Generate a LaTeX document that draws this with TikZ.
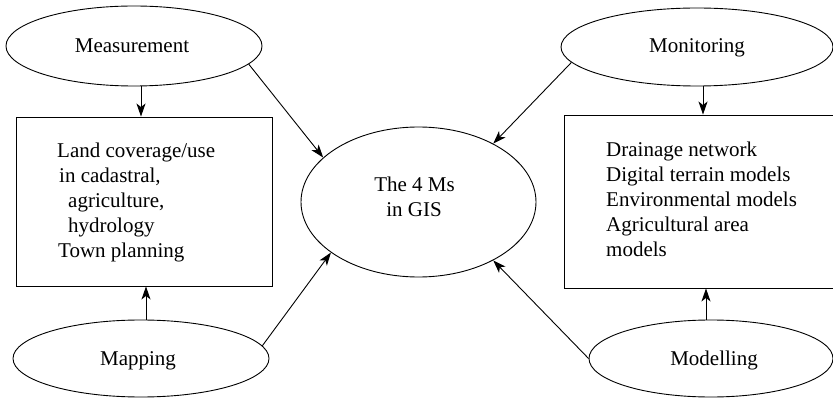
\documentclass[tikz,border=0pt]{standalone}
\usepackage{fontspec}
\setmainfont{Liberation Serif}
\usetikzlibrary{shapes.geometric,arrows.meta}
\begin{document}
\begin{tikzpicture}[x=1pt,y=-1pt,
  oval/.style={draw,ellipse,inner sep=0pt,line width=0.9pt},
  boxnode/.style={draw,rectangle,inner sep=0pt,line width=0.9pt},
  txt/.style={inner sep=0pt,anchor=base,font=\fontsize{21}{25}\selectfont},
  ltxt/.style={txt,anchor=base west},
  arr/.style={-{Stealth[length=13pt,width=9pt,inset=3.5pt]},line width=0.9pt}]
\useasboundingbox (0,0) rectangle (833,398);
\clip (0,0) rectangle (833,398);
% ellipses
\node[oval,minimum width=256pt,minimum height=80pt] (meas) at (134,46) {};
\node[oval,minimum width=272pt,minimum height=78pt] (moni) at (697,47) {};
\node[oval,minimum width=256pt,minimum height=77pt] (mapp) at (141,358.5) {};
\node[oval,minimum width=244pt,minimum height=77pt] (mode) at (711,358.5) {};
\node[oval,minimum width=235pt,minimum height=150pt] (gis) at (418.5,202) {};
% boxes
\node[boxnode,minimum width=256pt,minimum height=169pt] (lbox) at (144,201.5) {};
\node[boxnode,minimum width=276pt,minimum height=173pt] (rbox) at (702,201.5) {};
% labels
\node[txt] (tmeas) at (132,53) {Measurement};
\node[txt] (tmoni) at (697,53) {Monitoring};
\node[txt] (tmapp) at (138,365) {Mapping};
\node[txt] (tmode) at (714,365) {Modelling};
\node[txt] (g1) at (414.5,192) {The 4 Ms};
\node[txt] (g2) at (414,217) {in GIS};
\node[ltxt] (l1) at (57,158) {Land coverage/use};
\node[ltxt] (l2) at (59,183) {in cadastral,};
\node[ltxt] (l3) at (68,208) {agriculture,};
\node[ltxt] (l4) at (68,233) {hydrology};
\node[ltxt] (l5) at (58,258) {Town planning};
\node[ltxt] (r1) at (606,157) {Drainage network};
\node[ltxt] (r2) at (606,182) {Digital terrain models};
\node[ltxt] (r3) at (606,207) {Environmental models};
\node[ltxt] (r4) at (606,232) {Agricultural area};
\node[ltxt] (r5) at (606,257) {models};
% connectors
\draw[arr] ([xshift=7pt]meas.south) -- ([xshift=7pt]meas.south |- lbox.north);
\draw[arr] ([xshift=5pt]mapp.north) -- ([xshift=5pt]mapp.north |- lbox.south);
\draw[arr] ([xshift=6pt]moni.south) -- ([xshift=6pt]moni.south |- rbox.north);
\draw[arr] ([xshift=-5pt]mode.north) -- ([xshift=-5pt]mode.north |- rbox.south);
\draw[arr] (meas.-9) -- (gis.155);
\draw[arr] (moni.187) -- (gis.38);
\draw[arr] (mapp.6) -- (gis.210);
\draw[arr] (mode.180) -- (gis.322);
\end{tikzpicture}
\end{document}
